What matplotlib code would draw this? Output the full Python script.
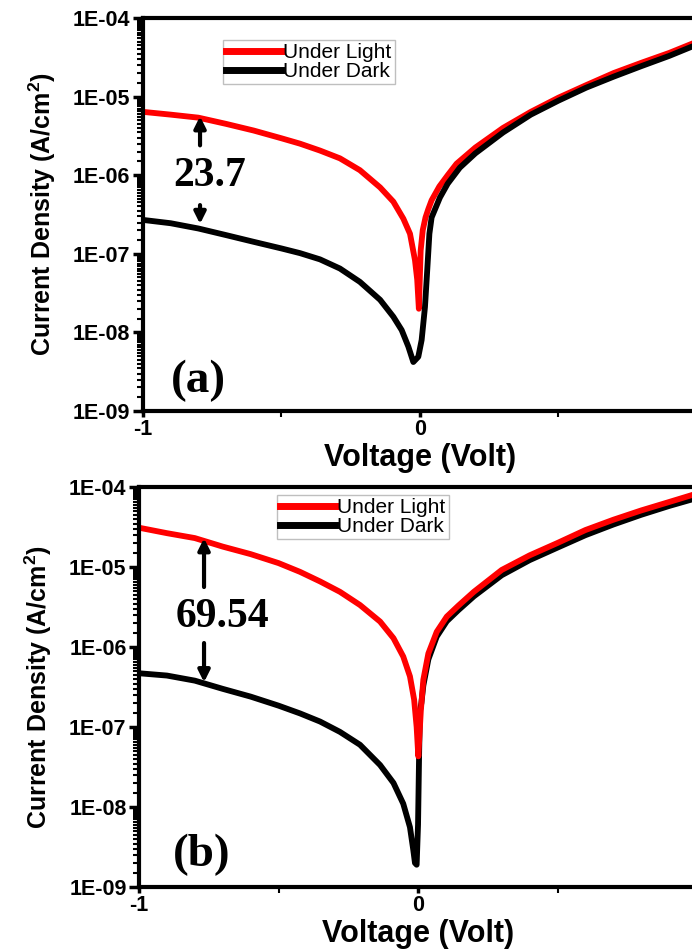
import numpy as np
import matplotlib
matplotlib.use('Agg')
import matplotlib.pyplot as plt
from matplotlib.ticker import FixedLocator, LogLocator, FuncFormatter, NullFormatter

plt.rcParams['font.family'] = 'Liberation Sans'
plt.rcParams['mathtext.default'] = 'regular'

###### DADOS ######
# painel (a)
v_luz_a = [-1.0, -0.9, -0.8, -0.7, -0.6, -0.5, -0.433, -0.361, -0.289, -0.217, -0.144, -0.096, -0.06, -0.036, -0.018, -0.01, -0.004,
           0.0025, 0.01, 0.02, 0.03, 0.042, 0.07, 0.1, 0.132, 0.2, 0.3, 0.4, 0.5, 0.6, 0.7, 0.8, 0.9, 1.0]
j_luz_a = [6.4e-6, 5.9e-6, 5.4e-6, 4.5e-6, 3.7e-6, 2.95e-6, 2.52e-6, 2.06e-6, 1.64e-6, 1.16e-6, 7.0e-7, 4.6e-7, 2.8e-7, 1.8e-7, 8.3e-8, 4.7e-8, 2.0e-8,
           1.1e-7, 2.0e-7, 2.9e-7, 3.7e-7, 4.8e-7, 7.2e-7, 1.0e-6, 1.4e-6, 2.25e-6, 4.0e-6, 6.4e-6, 9.7e-6, 1.4e-5, 2.0e-5, 2.7e-5, 3.6e-5, 5.0e-5]
v_esc_a = [-1.0, -0.9, -0.8, -0.7, -0.6, -0.5, -0.433, -0.361, -0.289, -0.217, -0.144, -0.096, -0.066, -0.042, -0.024, -0.006,
           0.006, 0.018, 0.027, 0.034, 0.042, 0.072, 0.1, 0.144, 0.2, 0.3, 0.4, 0.5, 0.6, 0.7, 0.8, 0.9, 1.0]
j_esc_a = [2.7e-7, 2.45e-7, 2.1e-7, 1.73e-7, 1.42e-7, 1.17e-7, 1.02e-7, 8.5e-8, 6.5e-8, 4.4e-8, 2.6e-8, 1.58e-8, 1.07e-8, 6.6e-9, 4.2e-9, 4.9e-9,
           8e-9, 2.1e-8, 6.9e-8, 1.8e-7, 2.9e-7, 5.2e-7, 7.8e-7, 1.25e-6, 1.9e-6, 3.5e-6, 5.9e-6, 8.9e-6, 1.3e-5, 1.8e-5, 2.45e-5, 3.3e-5, 4.6e-5]

# painel (b)
v_luz_b = [-1.0, -0.9, -0.8, -0.7, -0.6, -0.5, -0.423, -0.351, -0.28, -0.208, -0.136, -0.088, -0.053, -0.029, -0.014, -0.005, 0.001,
           0.01, 0.019, 0.037, 0.067, 0.103, 0.145, 0.2, 0.3, 0.4, 0.5, 0.6, 0.7, 0.8, 0.9, 1.0]
j_luz_b = [3.1e-5, 2.65e-5, 2.3e-5, 1.8e-5, 1.45e-5, 1.12e-5, 8.7e-6, 6.6e-6, 4.9e-6, 3.35e-6, 2.08e-6, 1.29e-6, 7.6e-7, 4.3e-7, 2.2e-7, 1.0e-7, 4.3e-8,
           1.6e-7, 3.9e-7, 8.3e-7, 1.55e-6, 2.4e-6, 3.3e-6, 4.9e-6, 9.2e-6, 1.4e-5, 2.0e-5, 2.9e-5, 3.9e-5, 5.1e-5, 6.5e-5, 8.3e-5]
v_esc_b = [-1.0, -0.9, -0.8, -0.7, -0.6, -0.5, -0.423, -0.351, -0.28, -0.208, -0.136, -0.088, -0.053, -0.029, -0.017, -0.011, -0.005, 0.0,
           0.004, 0.007, 0.012, 0.019, 0.037, 0.067, 0.103, 0.145, 0.2, 0.3, 0.4, 0.5, 0.6, 0.7, 0.8, 0.9, 1.0]
j_esc_b = [4.7e-7, 4.4e-7, 3.8e-7, 3.0e-7, 2.4e-7, 1.85e-7, 1.48e-7, 1.17e-7, 8.7e-8, 6.0e-8, 3.35e-8, 2.0e-8, 1.1e-8, 5.6e-9, 2.9e-9, 2.0e-9, 1.9e-9, 6e-9,
           5e-8, 1.6e-7, 2.0e-7, 3.3e-7, 7.0e-7, 1.35e-6, 2.1e-6, 2.9e-6, 4.3e-6, 7.9e-6, 1.22e-5, 1.75e-5, 2.5e-5, 3.4e-5, 4.5e-5, 5.8e-5, 7.3e-5]

razao_a = '23.7'
razao_b = '69.54'

fig = plt.figure(figsize=(6.92, 9.49), dpi=100)
ax1 = fig.add_axes([0.2066, 0.5669, 0.8006, 0.4141])
ax2 = fig.add_axes([0.2009, 0.0653, 0.8064, 0.4215])


def legenda(ax, handles, labels, pos):
    leg = ax.legend(handles, labels, loc='upper left', bbox_to_anchor=pos, borderaxespad=0, fontsize=15,
                    handlelength=2.65, handletextpad=0.1, labelspacing=0.0, borderpad=0.15,
                    fancybox=False, frameon=True)
    leg.get_frame().set_edgecolor('#b0b0b0')
    leg.get_frame().set_linewidth(1)
    for ln in leg.get_lines():
        ln.set_linewidth(5)


def formata(ax):
    ax.set_yscale('log')
    ax.set_ylim(1e-9, 1e-4)
    ax.set_xlim(-1, 1)
    ax.yaxis.set_major_locator(FixedLocator([1e-9, 1e-8, 1e-7, 1e-6, 1e-5, 1e-4]))
    ax.yaxis.set_major_formatter(FuncFormatter(lambda v, p: '1E-%02d' % round(-np.log10(v))))
    ax.yaxis.set_minor_locator(LogLocator(base=10, subs=np.arange(1.5, 10, 0.5)))
    ax.yaxis.set_minor_formatter(NullFormatter())
    ax.xaxis.set_major_locator(FixedLocator([-1, 0, 1]))
    ax.xaxis.set_minor_locator(FixedLocator([-0.5, 0.5]))
    ax.xaxis.set_major_formatter(FuncFormatter(lambda v, p: '%d' % v))
    for s in ax.spines.values():
        s.set_linewidth(3)
    ax.tick_params(axis='both', which='major', direction='out', length=7, width=2.5,
                   labelsize=15.5, pad=2)
    ax.tick_params(axis='both', which='minor', direction='out', length=4, width=1.5)
    ax.tick_params(axis='x', which='major', length=4)
    for lab in ax.get_xticklabels() + ax.get_yticklabels():
        lab.set_fontweight('bold')
    ax.set_xlabel('Voltage (Volt)', fontsize=22, fontweight='bold', labelpad=2)
    ax.set_ylabel('Current Density (A/cm$^{2}$)', fontsize=18, fontweight='bold', labelpad=11)


seta = dict(arrowstyle='-|>', lw=3, color='black', mutation_scale=17, shrinkA=0, shrinkB=0)

# painel (a): escuro por cima
l1, = ax1.plot(v_luz_a, j_luz_a, color='#ff0000', lw=4.2, solid_joinstyle='round')
l2, = ax1.plot(v_esc_a, j_esc_a, color='black', lw=4.2, solid_joinstyle='round')
formata(ax1)
legenda(ax1, [l1, l2], ['Under Light', 'Under Dark'], (0.144, 0.944))
ax1.text(-0.758, 10**-6.01, razao_a, fontsize=30, fontweight='bold', family='Liberation Serif',
         ha='center', va='center', bbox=dict(facecolor='white', edgecolor='none', pad=1))
ax1.text(-0.80, 10**-8.62, '(a)', fontsize=34, fontweight='bold', family='Liberation Serif',
         ha='center', va='center')
ax1.annotate('', xy=(-0.794, 10**-5.25), xytext=(-0.794, 10**-5.62), arrowprops=seta)
ax1.annotate('', xy=(-0.794, 10**-6.62), xytext=(-0.794, 10**-6.38), arrowprops=seta)

# painel (b): luz por cima
l4, = ax2.plot(v_esc_b, j_esc_b, color='black', lw=4.2, solid_joinstyle='round')
l3, = ax2.plot(v_luz_b, j_luz_b, color='#ff0000', lw=4.2, solid_joinstyle='round')
formata(ax2)
legenda(ax2, [l3, l4], ['Under Light', 'Under Dark'], (0.247, 0.98))
ax2.text(-0.70, 10**-5.63, razao_b, fontsize=30, fontweight='bold', family='Liberation Serif',
         ha='center', va='center', bbox=dict(facecolor='white', edgecolor='none', pad=1))
ax2.text(-0.774, 10**-8.6, '(b)', fontsize=34, fontweight='bold', family='Liberation Serif',
         ha='center', va='center')
ax2.annotate('', xy=(-0.767, 10**-4.64), xytext=(-0.767, 10**-5.25), arrowprops=seta)
ax2.annotate('', xy=(-0.767, 10**-6.44), xytext=(-0.767, 10**-5.95), arrowprops=seta)

plt.savefig('out.png', dpi=100)
